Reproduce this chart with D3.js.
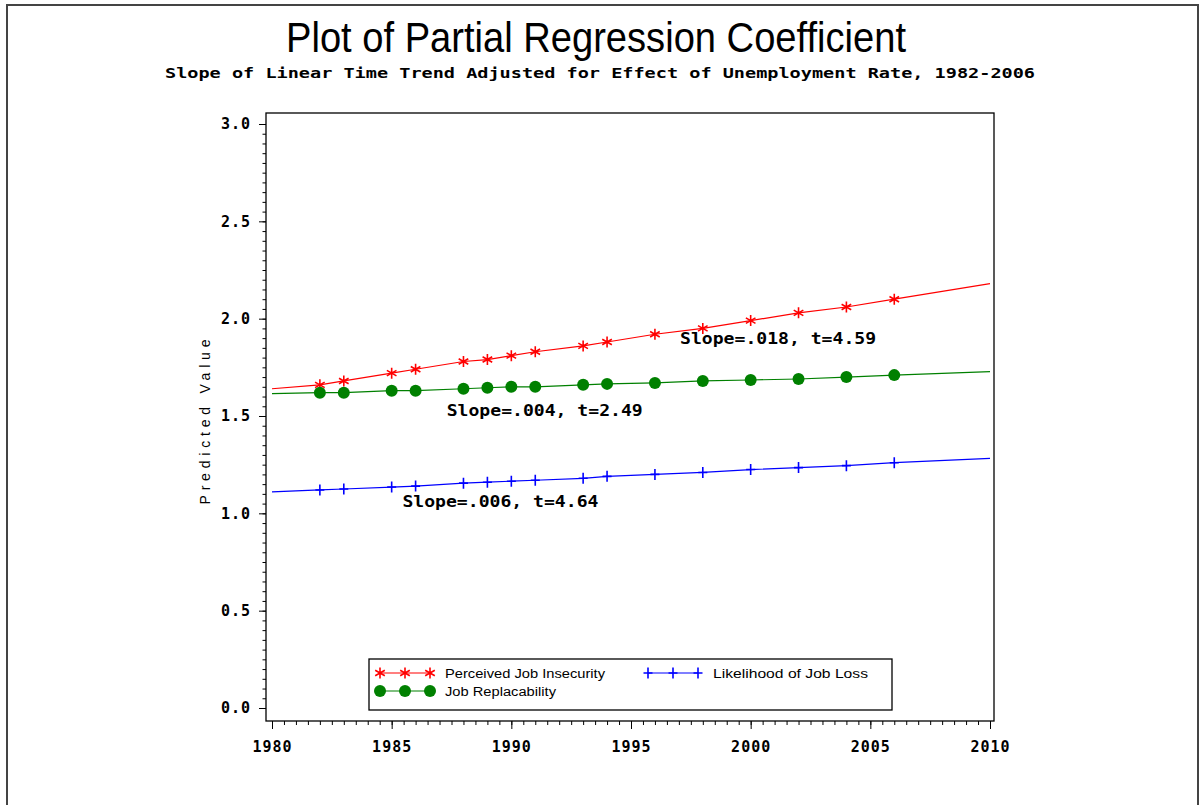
<!DOCTYPE html>
<html lang="en">
<head>
<meta charset="utf-8">
<title>Plot of Partial Regression Coefficient</title>
<script src="https://d3js.org/d3.v7.min.js"></script>
<style>
  body { margin: 0; background: #fff; }
  .tick text { font-family: "DejaVu Sans Mono", monospace; font-weight: bold; font-size: 15px; fill: #000; letter-spacing: 1px; }
  .tick line { stroke: #000; }
</style>
</head>
<body>
<script>
// years with observed points
var years = [1982, 1983, 1985, 1986, 1988, 1989, 1990, 1991, 1993, 1994, 1996, 1998, 2000, 2002, 2004, 2006];
// predicted values
var insecurity   = [1.66, 1.68, 1.72, 1.74, 1.78, 1.79, 1.81, 1.83, 1.86, 1.88, 1.92, 1.95, 1.99, 2.03, 2.06, 2.10];
var replacability = [1.62, 1.62, 1.63, 1.63, 1.64, 1.645, 1.65, 1.65, 1.66, 1.665, 1.67, 1.68, 1.685, 1.69, 1.70, 1.71];
var jobLoss      = [1.12, 1.125, 1.135, 1.14, 1.155, 1.16, 1.165, 1.17, 1.18, 1.19, 1.20, 1.21, 1.225, 1.235, 1.245, 1.26];
// fitted line ends at 1980 and 2010
var lineYears = [1980, 2010];
var insecurityEnds = [1.64, 2.18];
var replacabilityEnds = [1.615, 1.728];
var jobLossEnds = [1.11, 1.282];

var seriesNames = ["Perceived Job Insecurity", "Job Replacability", "Likelihood of Job Loss"];
var slopeLabels = ["Slope=.018, t=4.59", "Slope=.004, t=2.49", "Slope=.006, t=4.64"];
var slopeLabelAt = [[1997.05, 1.87], [1987.3, 1.50], [1985.45, 1.03]];

var xTicks = [1980, 1985, 1990, 1995, 2000, 2005, 2010];
var yTicks = [0.0, 0.5, 1.0, 1.5, 2.0, 2.5, 3.0];

var W = 1200, H = 805;
var svg = d3.select("body").append("svg")
  .attr("width", W).attr("height", H);

// outer frame
svg.append("rect")
  .attr("x", 7).attr("y", 5).attr("width", 1191).attr("height", 850)
  .attr("fill", "none").attr("stroke", "#444").attr("stroke-width", 2);

var x = d3.scaleLinear().domain([1980, 2010]).range([272, 990]);
var y = d3.scaleLinear().domain([0, 3]).range([708, 124]);

// plot frame
svg.append("rect")
  .attr("x", 266).attr("y", 113).attr("width", 728).attr("height", 608)
  .attr("fill", "none").attr("stroke", "#000").attr("stroke-width", 1.3);

// titles
svg.append("text")
  .attr("x", 596).attr("y", 52)
  .attr("text-anchor", "middle")
  .attr("font-family", "Liberation Sans, Arial, sans-serif")
  .attr("font-size", 42)
  .attr("textLength", 620).attr("lengthAdjust", "spacingAndGlyphs")
  .text("Plot of Partial Regression Coefficient");

svg.append("text")
  .attr("x", 600).attr("y", 78)
  .attr("text-anchor", "middle")
  .attr("font-family", "DejaVu Sans Mono, monospace")
  .attr("font-weight", "bold")
  .attr("font-size", 14.5)
  .attr("textLength", 870).attr("lengthAdjust", "spacingAndGlyphs")
  .text("Slope of Linear Time Trend Adjusted for Effect of Unemployment Rate, 1982-2006");

// y axis
var yMinor = d3.range(0, 3.0001, 0.05);
svg.append("g").attr("transform", "translate(266,0)")
  .call(d3.axisLeft(y).tickValues(yMinor).tickSize(3.5).tickFormat(""))
  .call(function(g){ g.select(".domain").remove(); });
svg.append("g").attr("transform", "translate(266,0)")
  .call(d3.axisLeft(y).tickValues(yTicks).tickSize(7).tickPadding(8).tickFormat(d3.format(".1f")))
  .call(function(g){ g.select(".domain").remove(); });

// x axis
var xMinor = d3.range(1980, 2010.001, 0.5);
svg.append("g").attr("transform", "translate(0,721)")
  .call(d3.axisBottom(x).tickValues(xMinor).tickSize(4).tickFormat(""))
  .call(function(g){ g.select(".domain").remove(); });
svg.append("g").attr("transform", "translate(0,721)")
  .call(d3.axisBottom(x).tickValues(xTicks).tickSize(8).tickPadding(12).tickFormat(d3.format("d")))
  .call(function(g){ g.select(".domain").remove(); });

svg.append("text")
  .attr("transform", "translate(210,422) rotate(-90)")
  .attr("text-anchor", "middle")
  .attr("font-family", "Liberation Sans, Arial, sans-serif")
  .attr("font-size", 14)
  .attr("textLength", 165).attr("lengthAdjust", "spacing")
  .text("Predicted Value");

// series
var colors = ["#ff0000", "#008000", "#0000ff"];
var vals = [insecurity, replacability, jobLoss];
var ends = [insecurityEnds, replacabilityEnds, jobLossEnds];

var starPath = "M0,-5.5L0,5.5M-4.8,-2.75L4.8,2.75M-4.8,2.75L4.8,-2.75";
var plusPath = "M-4.5,0H4.5M0,-5.5V5.5";

var line = d3.line().x(function(d){ return x(d[0]); }).y(function(d){ return y(d[1]); });

function drawMarker(g, kind, cx, cy, c) {
  if (kind === 1) {
    g.append("circle").attr("cx", cx).attr("cy", cy).attr("r", 6).attr("fill", c);
  } else {
    g.append("path").attr("transform", "translate(" + cx + "," + cy + ")")
      .attr("d", kind === 0 ? starPath : plusPath)
      .attr("stroke", c).attr("stroke-width", 1.6).attr("fill", "none");
  }
}

vals.forEach(function(v, i) {
  var pts = [[lineYears[0], ends[i][0]]]
    .concat(years.map(function(yr, j){ return [yr, v[j]]; }))
    .concat([[lineYears[1], ends[i][1]]]);
  svg.append("path").attr("d", line(pts))
    .attr("fill", "none").attr("stroke", colors[i]).attr("stroke-width", 1.2);
  var g = svg.append("g");
  years.forEach(function(yr, j){ drawMarker(g, i, x(yr), y(v[j]), colors[i]); });
});

// slope annotations
slopeLabels.forEach(function(t, i) {
  svg.append("text")
    .attr("x", x(slopeLabelAt[i][0])).attr("y", y(slopeLabelAt[i][1]))
    .attr("font-family", "DejaVu Sans Mono, monospace")
    .attr("font-weight", "bold")
    .attr("font-size", 15)
    .attr("textLength", 196).attr("lengthAdjust", "spacingAndGlyphs")
    .text(t);
});

// legend
svg.append("rect")
  .attr("x", 369).attr("y", 659).attr("width", 523).attr("height", 51)
  .attr("fill", "#fff").attr("stroke", "#000").attr("stroke-width", 1.3);

var legendPos = [[380, 673], [380, 691], [648, 673]];
var legendTextLen = [160, 111, 155];
legendPos.forEach(function(p, i) {
  var g = svg.append("g");
  g.append("line").attr("x1", p[0]).attr("x2", p[0] + 50)
    .attr("y1", p[1]).attr("y2", p[1])
    .attr("stroke", colors[i]).attr("stroke-width", 1.2);
  [0, 25, 50].forEach(function(dx){ drawMarker(g, i, p[0] + dx, p[1], colors[i]); });
  g.append("text")
    .attr("x", p[0] + 65).attr("y", p[1] + 4.5)
    .attr("font-family", "Liberation Sans, Arial, sans-serif")
    .attr("font-size", 12.5)
    .attr("textLength", legendTextLen[i]).attr("lengthAdjust", "spacingAndGlyphs")
    .text(seriesNames[i]);
});
</script>
</body>
</html>
